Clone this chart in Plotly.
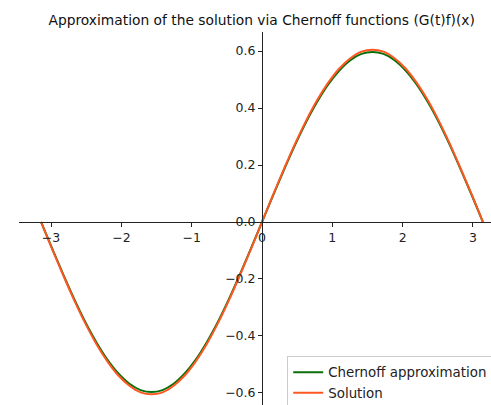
import plotly.graph_objects as go

# x samples from -pi to pi (step pi/20)
x_vals = [-3.142, -2.985, -2.827, -2.670, -2.513, -2.356, -2.199, -2.042, -1.885, -1.728,
          -1.571, -1.414, -1.257, -1.100, -0.942, -0.785, -0.628, -0.471, -0.314, -0.157,
          0.000, 0.157, 0.314, 0.471, 0.628, 0.785, 0.942, 1.100, 1.257, 1.414,
          1.571, 1.728, 1.885, 2.042, 2.199, 2.356, 2.513, 2.670, 2.827, 2.985, 3.142]

chernoff = [0, -0.093, -0.184, -0.271, -0.351, -0.422, -0.483, -0.532, -0.568, -0.590,
            -0.597, -0.590, -0.568, -0.532, -0.483, -0.422, -0.351, -0.271, -0.184, -0.093,
            0, 0.093, 0.184, 0.271, 0.351, 0.422, 0.483, 0.532, 0.568, 0.590,
            0.597, 0.590, 0.568, 0.532, 0.483, 0.422, 0.351, 0.271, 0.184, 0.093, 0]

solution = [0, -0.095, -0.187, -0.275, -0.356, -0.428, -0.489, -0.539, -0.575, -0.598,
            -0.605, -0.598, -0.575, -0.539, -0.489, -0.428, -0.356, -0.275, -0.187, -0.095,
            0, 0.095, 0.187, 0.275, 0.356, 0.428, 0.489, 0.539, 0.575, 0.598,
            0.605, 0.598, 0.575, 0.539, 0.489, 0.428, 0.356, 0.275, 0.187, 0.095, 0]

x_ticks = [-3, -2, -1, 0, 1, 2, 3]
y_ticks = [-0.6, -0.4, -0.2, 0.0, 0.2, 0.4, 0.6]

title_text = "Approximation of the solution via Chernoff functions (G(t)f)(x)"

FONT = "DejaVu Sans"

fig = go.Figure()
fig.add_trace(go.Scatter(x=x_vals, y=chernoff, mode="lines", name="Chernoff approximation",
                         line=dict(color="#0a6e0a", width=2, shape="spline")))
fig.add_trace(go.Scatter(x=x_vals, y=solution, mode="lines", name="Solution",
                         line=dict(color="#ff5722", width=2, shape="spline")))

# full (uncropped) figure; the viewing window shows only its top-left 491x405 part
W, H = 520, 425
L, T = 19, 32
R = W - 504.6
B = H - 412
PW, PH = W - L - R, H - T - B

xr = [-3.456, 3.456]
yr = [-0.667, 0.667]

fig.update_layout(
    width=W, height=H,
    margin=dict(l=L, r=R, t=T, b=B),
    paper_bgcolor="white", plot_bgcolor="white",
    font=dict(family=FONT, size=12.5, color="#222"),
    title=dict(text=title_text, x=261.7/W, xanchor="center", xref="container",
               y=1-20.5/H, yanchor="middle", yref="container",
               font=dict(family=FONT, size=13.8, color="#111")),
    showlegend=True,
    legend=dict(x=(287-L)/PW, y=(412-409)/PH, xanchor="left", yanchor="bottom",
                bgcolor="rgba(255,255,255,0.8)", bordercolor="#cccccc", borderwidth=1,
                font=dict(family=FONT, size=13.4, color="#222"),
                tracegroupgap=0),
    xaxis=dict(range=xr, tickvals=x_ticks, showgrid=False, zeroline=False,
               showline=True, linecolor="#222", linewidth=1,
               ticks="outside", ticklen=4, tickcolor="#222",
               anchor="free", position=(0 - yr[0]) / (yr[1] - yr[0])),
    yaxis=dict(range=yr, tickvals=y_ticks, tickformat=".1f", showgrid=False, zeroline=False,
               showline=True, linecolor="#222", linewidth=1,
               ticks="outside", ticklen=4, tickcolor="#222",
               anchor="free", position=(0 - xr[0]) / (xr[1] - xr[0])),
)

fig.write_html("out.html", config={"displayModeBar": False},
               post_script="document.body.style.margin='0';document.body.style.overflow='hidden';"
                           "document.documentElement.style.overflow='hidden';")
